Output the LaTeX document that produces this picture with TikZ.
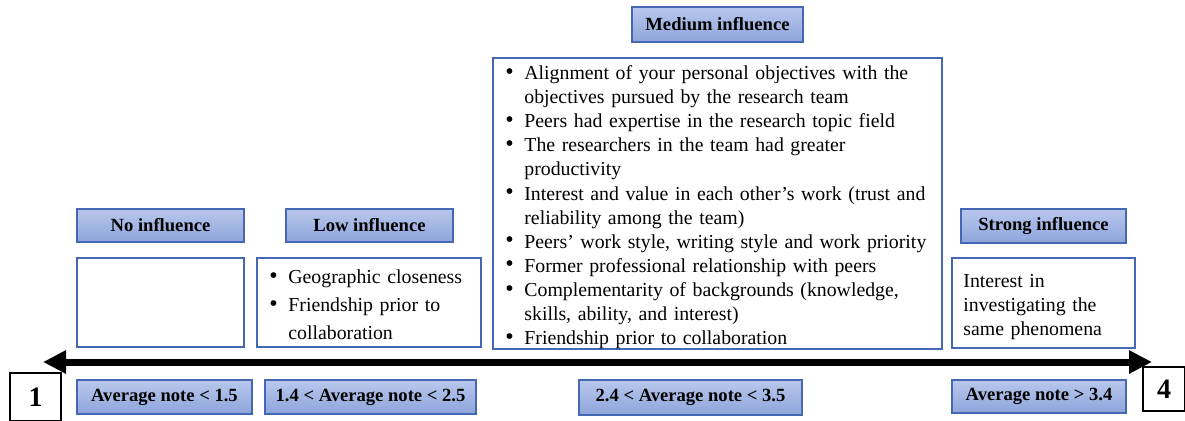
\documentclass[tikz,border=0pt]{standalone}
\usepackage{fontspec}
\setmainfont{Liberation Serif}
\usepackage{tikz}
\usetikzlibrary{shapes,arrows.meta,positioning}
\definecolor{hdrtop}{HTML}{B8C7EC}
\definecolor{hdrbot}{HTML}{8EA5DB}
\definecolor{hdrline}{HTML}{4468B4}
\newcommand{\bitem}[1]{\par\noindent\hangindent=9.5pt\hangafter=1%
  \makebox[9.5pt][l]{\raisebox{0.2pt}{\fontsize{12}{12}\selectfont\textbullet}}#1}

\begin{document}
\begin{tikzpicture}[x=0.5pt, y=-0.5pt,
                   hdr/.style={draw=hdrline, line width=0.8pt, top color=hdrtop, bottom color=hdrbot,
                               font=\bfseries\fontsize{9.3}{11}\selectfont, inner sep=0pt},
                   txtbox/.style={draw=hdrline, line width=0.6pt, fill=white, inner sep=0pt},
                   numbox/.style={draw=black, line width=0.6pt, fill=white,
                                  font=\bfseries\fontsize{14}{16}\selectfont, inner sep=0pt}]
          \useasboundingbox (0,0) rectangle (1185,420);
          % influence headers
          \node[hdr, minimum width=85.5pt, minimum height=17.5pt] (medhdr) at (717.5,24.5) {Medium influence};
          \node[hdr, minimum width=83.5pt, minimum height=16.5pt] (nohdr) at (160.5,225.5) {No influence};
          \node[hdr, minimum width=83.5pt, minimum height=16.5pt] (lowhdr) at (369.5,225.5) {Low influence};
          \node[hdr, minimum width=82.5pt, minimum height=17pt] (stronghdr) at (1043.5,226) {Strong influence};
          % factor boxes
          \node[txtbox, minimum width=224.5pt, minimum height=145.5pt] (medbox) at (717.5,203.5) {};
          \node[anchor=north west, text width=216pt, inner sep=0pt,
                font=\fontsize{9.9}{12.05}\selectfont] (medtxt) at (505,55)
            {\raggedright
             \bitem{Alignment of your personal objectives with the\newline objectives pursued by the research team}
             \bitem{Peers had expertise in the research topic field}
             \bitem{The researchers in the team had greater\newline productivity}
             \bitem{Interest and value in each other's work (trust and\newline reliability among the team)}
             \bitem{Peers' work style, writing style and work priority}
             \bitem{Former professional relationship with peers}
             \bitem{Complementarity of backgrounds (knowledge,\newline skills, ability, and interest)}
             \bitem{Friendship prior to collaboration}\par};
          \node[txtbox, minimum width=83.5pt, minimum height=44.5pt] (nobox) at (160.5,302.5) {};
          \node[txtbox, minimum width=112pt, minimum height=44.5pt] (lowbox) at (369,302.5) {};
          \node[anchor=north west, text width=104pt, inner sep=0pt,
                font=\fontsize{9.9}{14}\selectfont] (lowtxt) at (269,255)
            {\raggedright
             \bitem{Geographic closeness}
             \bitem{Friendship prior to\newline collaboration}\par};
          \node[txtbox, minimum width=91.5pt, minimum height=45pt] (strongbox) at (1043.5,303) {};
          \node[anchor=north west, text width=84pt, inner sep=0pt, align=left,
                font=\fontsize{9.9}{12.05}\selectfont] (strongtxt) at (963,274)
            {Interest in\\investigating the\\same phenomena};
          % scale
          \coordinate (lowend) at (43,362);
          \coordinate (highend) at (1152,362);
          \draw[line width=3.5pt, {Triangle[length=11.5pt,width=11pt]}-{Triangle[length=11.5pt,width=11pt]}] (lowend) -- (highend);
          \node[numbox, minimum width=25.5pt, minimum height=24pt] (one) at (35.5,397) {1};
          \node[numbox, minimum width=21pt, minimum height=22pt] (four) at (1164,389) {4};
          % average notes
          \node[hdr, minimum width=87.5pt, minimum height=17pt] (note1) at (164.5,397) {Average note < 1.5};
          \node[hdr, minimum width=105.5pt, minimum height=17pt] (note2) at (370.5,397) {1.4 < Average note < 2.5};
          \node[hdr, minimum width=111.5pt, minimum height=17.5pt] (note3) at (690.5,397.5) {2.4 < Average note < 3.5};
          \node[hdr, minimum width=87pt, minimum height=16.5pt] (note4) at (1039,396.5) {Average note > 3.4};
        \end{tikzpicture}
\end{document}
